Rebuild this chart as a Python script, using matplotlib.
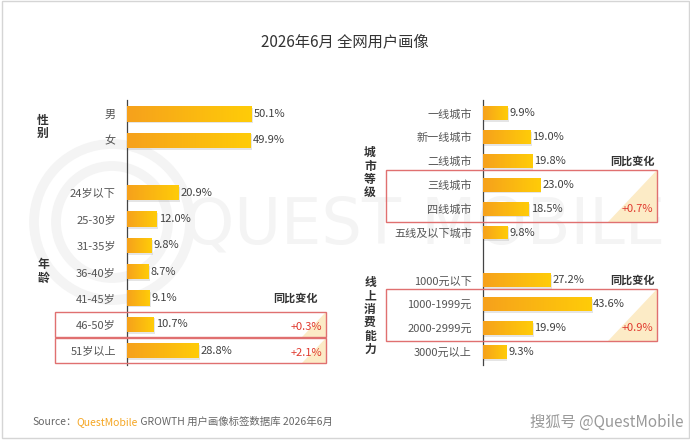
import numpy as np
import matplotlib
matplotlib.use('Agg')
import matplotlib.pyplot as plt
import matplotlib.transforms as mtransforms
from matplotlib.colors import LinearSegmentedColormap
from matplotlib.patches import Rectangle, Polygon, Circle

plt.rcParams['font.family'] = ['Noto Sans CJK SC', 'DejaVu Sans']

# Chart data
gender_labels = ['男', '女']
gender_values = [50.1, 49.9]
age_labels = ['24岁以下', '25-30岁', '31-35岁', '36-40岁', '41-45岁', '46-50岁', '51岁以上']
age_values = [20.9, 12.0, 9.8, 8.7, 9.1, 10.7, 28.8]
city_labels = ['一线城市', '新一线城市', '二线城市', '三线城市', '四线城市', '五线及以下城市']
city_values = [9.9, 19.0, 19.8, 23.0, 18.5, 9.8]
spend_labels = ['1000元以下', '1000-1999元', '2000-2999元', '3000元以上']
spend_values = [27.2, 43.6, 19.9, 9.3]

# highlighted rows and their YoY change
age_change = [(['46-50岁'], '+0.3%'), (['51岁以上'], '+2.1%')]
city_change = [(['三线城市', '四线城市'], '+0.7%')]
spend_change = [(['1000-1999元', '2000-2999元'], '+0.9%')]

W, H = 690, 440
PX_PER_PCT = 2.48
TEXT = '#333333'
RED = '#e03a2f'
BOX = '#e07070'

bar_cmap = LinearSegmentedColormap.from_list('bar', ['#f6a11c', '#ffcc08'])
grad = np.linspace(0, 1, 256).reshape(1, -1)

fig = plt.figure(figsize=(W / 100, H / 100), dpi=100)


def px_box(x0, y0, x1, y1):
    return [x0 / W, 1 - y1 / H, (x1 - x0) / W, (y1 - y0) / H]


# background: frame + faint watermark
bg = fig.add_axes([0, 0, 1, 1], zorder=-5)
bg.set_xlim(0, W)
bg.set_ylim(H, 0)
bg.axis('off')
bg.add_patch(Rectangle((1.5, 1.5), W - 3, H - 3, fill=False, edgecolor='#d5d5d5', lw=1))
for r in (78, 56):
    bg.add_patch(Circle((112, 222), r, fill=False, edgecolor='#f4f4f4', lw=7))
bg.text(425, 226, 'QUEST MOBILE', fontsize=46, color='#f4f4f4', ha='center', va='center',
        family='DejaVu Sans')

fig.text(0.5, 1 - 42 / H, '2026年6月 全网用户画像', ha='center', va='center',
         fontsize=11, color=TEXT)


def draw_panel(rect, groups, xmax, ylim):
    ax = fig.add_axes(px_box(*rect))
    pos, labels, values = [], [], []
    start = 0
    for lab, val in groups:
        pos += list(range(start, start + len(lab)))
        labels += lab
        values += val
        start += len(lab) + 1
    h = 0.58
    shadow = mtransforms.offset_copy(ax.transData, fig=fig, x=1.0, y=-1.3, units='points')
    ax.barh(pos, values, height=h, color='#9a9a9a', alpha=0.25, transform=shadow, zorder=2)
    bars = ax.barh(pos, values, height=h, color='none', edgecolor='none', zorder=3)
    for p, v, patch in zip(pos, values, bars.patches):
        im = ax.imshow(grad, extent=[0, v, p + h / 2, p - h / 2], aspect='auto',
                       cmap=bar_cmap, zorder=3)
        im.set_clip_path(patch)
        ax.annotate(f'{v:.1f}%', xy=(v, p), xytext=(1.5, 0), textcoords='offset points',
                    va='center', ha='left', fontsize=8, color='#404040')
    ax.set_xlim(0, xmax)
    ax.set_ylim(*ylim)
    ax.set_aspect('auto')
    ax.set_yticks(pos, labels)
    ax.set_xticks([])
    ax.tick_params(axis='y', length=0, pad=8, labelsize=8, labelcolor='#555555')
    for s in ('top', 'right', 'bottom'):
        ax.spines[s].set_visible(False)
    ax.spines['left'].set_color('#444444')
    ax.spines['left'].set_linewidth(0.9)
    ax.patch.set_alpha(0)
    return ax, dict(zip(labels, pos))


def group_title(ax, text, rows, x_px):
    trans = mtransforms.blended_transform_factory(fig.transFigure, ax.transData)
    ax.text(x_px / W, (rows[0] + rows[-1]) / 2, '\n'.join(text), transform=trans,
            ha='center', va='center', fontsize=8.5, fontweight='bold', color=TEXT,
            linespacing=1.05, clip_on=False)


def highlight(ax, rowpos, changes, x0, x1, header_x, pad_top, pad_bot, val_dy):
    trans = mtransforms.blended_transform_factory(fig.transFigure, ax.transData)
    for i, (rows, change) in enumerate(changes):
        ys = [rowpos[r] for r in rows]
        ymin, ymax = min(ys) - pad_top, max(ys) + pad_bot
        if i == 0:
            ax.text(header_x / W, min(ys) - 1, '同比变化', transform=trans, ha='right',
                    va='center', fontsize=8, fontweight='bold', color=TEXT, clip_on=False)
        hpx = abs(ax.transData.transform((0, ymax))[1] - ax.transData.transform((0, ymin))[1])
        tri = Polygon([(x1 / W, ymin), (x1 / W, ymax), ((x1 - hpx * 0.95) / W, ymax)],
                      closed=True, transform=trans, facecolor='#fcebc6', edgecolor='none',
                      zorder=1, clip_on=False)
        ax.add_patch(tri)
        ax.add_patch(Rectangle((x0 / W, ymin), (x1 - x0) / W, ymax - ymin, transform=trans,
                               fill=False, edgecolor=BOX, lw=1, zorder=4, clip_on=False))
        ax.text((x1 - 4) / W, max(ys) + val_dy, change, transform=trans, ha='right',
                va='center', fontsize=8, color=RED, zorder=5, clip_on=False)


# left panel: gender + age
ax_l, rows_l = draw_panel((127, 100, 327, 365),
                          [(gender_labels, gender_values), (age_labels, age_values)],
                          200 / PX_PER_PCT, (9.55, -0.53))
group_title(ax_l, '性别', [rows_l[g] for g in gender_labels], 43)
group_title(ax_l, '年龄', [rows_l[a] for a in age_labels], 43)
highlight(ax_l, rows_l, age_change, 55, 326, 318, 0.47, 0.49, 0.1)

# right panel: city tier + online spending
ax_r, rows_r = draw_panel((483, 100, 653, 365),
                          [(city_labels, city_values), (spend_labels, spend_values)],
                          170 / PX_PER_PCT, (10.55, -0.55))
group_title(ax_r, '城市等级', [rows_r[c] for c in city_labels], 370)
group_title(ax_r, '线上消费能力', [rows_r[s] for s in spend_labels], 370)
highlight(ax_r, rows_r, city_change, 386, 657, 655, 0.63, 0.55, 0.0)
highlight(ax_r, rows_r, spend_change, 386, 657, 655, 0.63, 0.55, 0.0)

# source line
renderer = fig.canvas.get_renderer()
x = 32 / W
y = 1 - 422 / H
for txt, col in [('Source：', '#666666'), ('QuestMobile', '#f5a623'),
                 (' GROWTH 用户画像标签数据库 2026年6月', '#666666')]:
    t = fig.text(x, y, txt, ha='left', va='center', fontsize=7.5, color=col)
    x = t.get_window_extent(renderer).x1 / W
fig.text(683 / W, y, '搜狐号 @QuestMobile', ha='right', va='center', fontsize=11,
         color='#9a9a9a')

fig.savefig('out.png', dpi=100)
